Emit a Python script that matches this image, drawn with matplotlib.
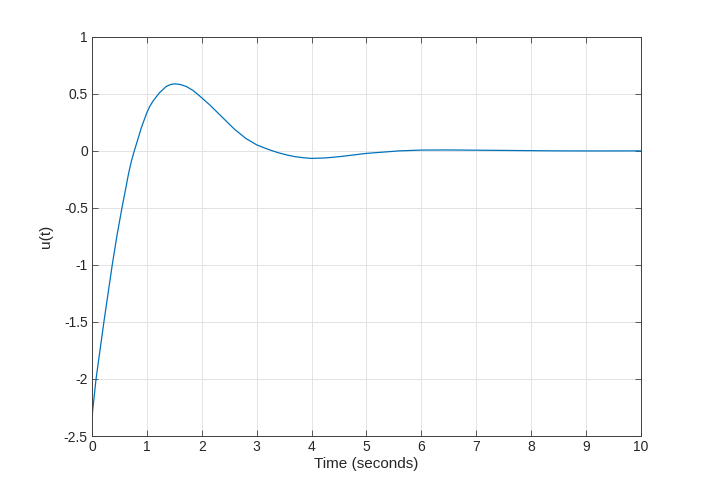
import matplotlib.pyplot as plt
import numpy as np

# values
t = [0.0, 0.073, 0.15, 0.222, 0.295, 0.368, 0.455, 0.545, 0.61, 0.665, 0.72, 0.77,
     0.834, 0.90, 1.0, 1.05, 1.11, 1.23, 1.35, 1.43, 1.51, 1.61, 1.72, 1.84, 1.96,
     2.146, 2.39, 2.596, 2.8, 3.0, 3.2, 3.385, 3.55, 3.69, 3.85, 4.0, 4.25, 4.52,
     5.0, 5.6, 6.0, 6.5, 7.0, 7.5, 8.0, 8.5, 9.0, 9.5, 10.0]
u = [-2.33, -2.0, -1.73, -1.48, -1.24, -1.0, -0.74, -0.5, -0.34, -0.2, -0.085, 0.0,
     0.1, 0.205, 0.336, 0.388, 0.436, 0.51, 0.564, 0.582, 0.588, 0.582, 0.564, 0.53, 0.482,
     0.403, 0.287, 0.19, 0.11, 0.053, 0.015, -0.015, -0.036, -0.05, -0.06, -0.066, -0.062, -0.05,
     -0.022, 0.0, 0.007, 0.008, 0.006, 0.004, 0.002, 0.0, -0.0005, -0.0005, 0.0]

xticks = np.arange(0, 11, 1)
yticks = [-2.5, -2, -1.5, -1, -0.5, 0, 0.5, 1]
yticklabels = ['-2.5', '-2', '-1.5', '-1', '-0.5', '0', '0.5', '1']

plt.rcParams['font.family'] = ['Liberation Sans', 'DejaVu Sans']

fig = plt.figure(figsize=(7.08, 4.91), dpi=100)
ax = fig.add_axes([0.13, 0.112, 0.775, 0.813])
ax.plot(t, u, color='#0072BD', linewidth=0.9)

ax.set_xlim(0, 10)
ax.set_ylim(-2.5, 1)
ax.set_xticks(xticks)
ax.set_yticks(yticks)
ax.set_yticklabels(yticklabels)
ax.tick_params(direction='in', top=True, right=True, length=4, width=0.6,
               color='#404040', labelsize=10, labelcolor='#262626', pad=3)
ax.grid(True, color='#e3e3e3', linewidth=0.7)
ax.set_axisbelow(True)
for s in ax.spines.values():
    s.set_color('#404040')
    s.set_linewidth(0.7)

ax.set_xlabel('Time (seconds)', fontsize=11, color='#262626', labelpad=2)
ax.set_ylabel('u(t)', fontsize=11, color='#262626', labelpad=8)

fig.savefig('out.png', dpi=100)
